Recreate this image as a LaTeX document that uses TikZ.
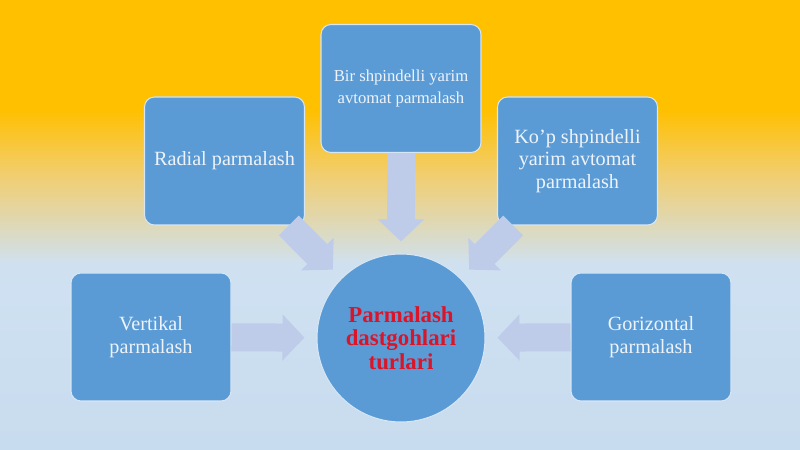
\documentclass[tikz,border=0pt]{standalone}
\usepackage{fontspec}
\setmainfont{Liberation Serif}
\usetikzlibrary{arrows.meta}

\definecolor{bgorange}{HTML}{FFC000}
\definecolor{bgsand}{HTML}{F1CE70}
\definecolor{bgblue}{HTML}{CFE1F1}
\definecolor{bgbluelow}{HTML}{C8DCEF}
\definecolor{boxblue}{HTML}{5B9BD5}
\definecolor{boxtext}{HTML}{EEF3FA}
\definecolor{feedblue}{HTML}{BECCE9}
\definecolor{hubred}{HTML}{DC1428}

\tikzset{
  kindbox/.style={draw=white!75!boxblue, line width=0.6pt, fill=boxblue,
    rounded corners=0.2cm, minimum width=3.2cm, minimum height=2.56cm,
    text=boxtext, align=center, font=\fontsize{11.5}{13}\selectfont},
  hubcircle/.style={circle, draw=white!75!boxblue, line width=0.6pt,
    fill=boxblue, minimum size=3.36cm, text=hubred, align=center,
    font=\fontsize{13}{13.5}\selectfont\bfseries},
  feed/.style={draw=feedblue, line width=0.56cm,
    -{Triangle[length=0.44cm,width=0.9cm]}, shorten >=0.24cm}
}

\begin{document}
\begin{tikzpicture}
    \useasboundingbox (0,0) rectangle (16,8.98);

    % Background, orange at the top fading to light blue
    \fill[bgorange] (0,6.78) rectangle (16,8.98);
    \fill[top color=bgorange, bottom color=bgsand] (0,5.48) rectangle (16,6.78);
    \fill[top color=bgsand, bottom color=bgblue] (0,3.68) rectangle (16,5.48);
    \fill[top color=bgblue, bottom color=bgbluelow] (0,0) rectangle (16,3.68);

    % Centre circle
    \node[hubcircle] (hub) at (8.02,2.22) {Parmalash\\dastgohlari\\turlari};

    % Kinds of drilling
    \node[kindbox] (vert) at (3.02,2.24) {Vertikal\\parmalash};
    \node[kindbox] (radial) at (4.49,5.76) {Radial parmalash};
    \node[kindbox, font=\fontsize{9.5}{12}\selectfont] (bir) at (8.02,7.21)
        {Bir shpindelli yarim\\avtomat parmalash};
    \node[kindbox] (kop) at (11.55,5.76) {Ko’p shpindelli\\yarim avtomat\\parmalash};
    \node[kindbox] (gor) at (13.02,2.24) {Gorizontal\\parmalash};

    % Arrows into the circle
    \draw[feed] (vert) -- (hub);
    \draw[feed] (radial) -- (hub);
    \draw[feed] (bir) -- (hub);
    \draw[feed] (kop) -- (hub);
    \draw[feed] (gor) -- (hub);

\end{tikzpicture}
\end{document}
